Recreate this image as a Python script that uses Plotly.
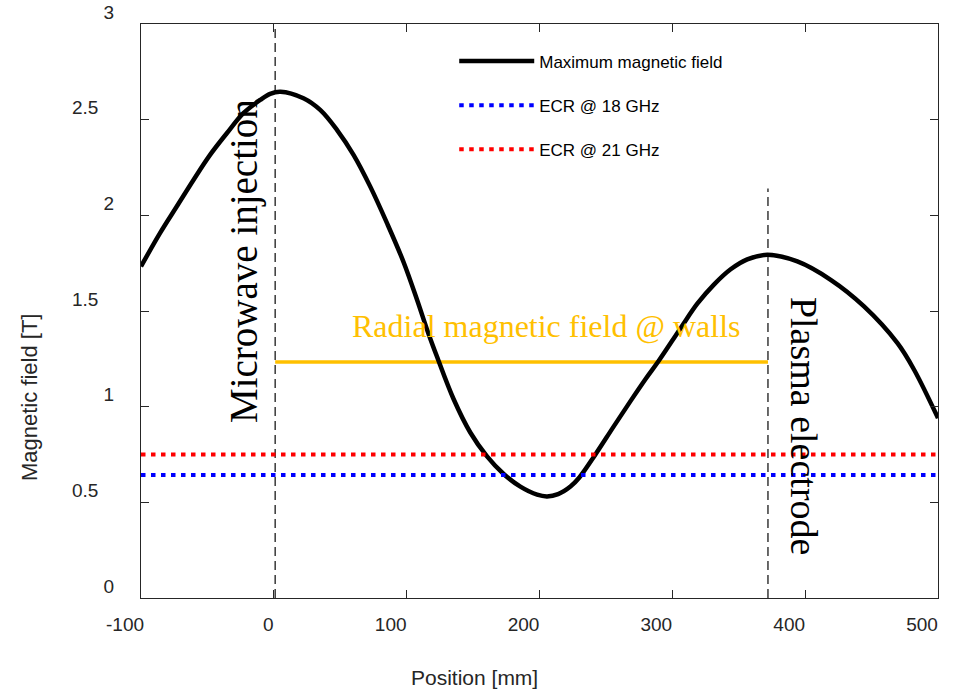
import plotly.graph_objects as go

# Axial profile of the maximum magnetic field
position_mm = [-100, -85.7, -73.1, -60.5, -48, -35.4, -22.9, -10.3, -2.8, 5,
               22.3, 34.9, 47.5, 60, 72.6, 85.2, 97.7, 108, 115.5, 122.8,
               135.3, 147.9, 160.5, 173, 185.6, 198.2, 205.7, 214, 223.3, 230,
               242, 255.9, 268.5, 280, 289.8, 306.2, 318.8, 331.3, 343.9, 356.4,
               371.5, 394.1, 419.2, 444.3, 469.5, 482, 500]
b_max_T = [1.733, 1.907, 2.046, 2.185, 2.316, 2.429, 2.534, 2.603, 2.635, 2.646,
           2.612, 2.551, 2.447, 2.316, 2.150, 1.959, 1.755, 1.555, 1.400, 1.262,
           1.040, 0.865, 0.740, 0.648, 0.582, 0.540, 0.531, 0.543, 0.583, 0.630,
           0.749, 0.897, 1.029, 1.146, 1.240, 1.410, 1.538, 1.638, 1.718, 1.770,
           1.794, 1.759, 1.663, 1.524, 1.332, 1.193, 0.940]

# Resonance fields and geometry markers
ecr_18ghz_T = 0.643
ecr_21ghz_T = 0.750
x_span = [-100, 500]
injection_mm = 1
electrode_mm = 372
electrode_top_T = 2.14
wall_field_T = 1.233

y_tickvals = [0, 0.5, 1, 1.5, 2, 2.5, 3]
y_ticktext = ["0", "0.5", "1", "1.5", "2", "2.5", "3"]
x_tickvals = [-100, 0, 100, 200, 300, 400, 500]
x_ticktext = ["-100", "0", "100", "200", "300", "400", "500"]

NB = "\u00a0"
y_ticktext_padded = [t + NB * 3 if "." in t else t for t in y_ticktext]
x_ticktext_padded = [NB * 4 + t if t == "0" else t for t in x_ticktext]

SANS = "Arial, Liberation Sans, sans-serif"
SERIF = "Times New Roman, Liberation Serif, serif"
AX = "#262626"

fig = go.Figure()

# vertical markers: microwave injection and plasma electrode
fig.add_trace(go.Scatter(x=[injection_mm, injection_mm], y=[0, 3], mode="lines",
                         line=dict(color="#1a1a1a", width=1.3, dash="9px,5px"),
                         showlegend=False, hoverinfo="skip"))
fig.add_trace(go.Scatter(x=[electrode_mm, electrode_mm], y=[0, electrode_top_T], mode="lines",
                         line=dict(color="#1a1a1a", width=1.3, dash="9px,5px"),
                         showlegend=False, hoverinfo="skip"))

# radial field at the walls
fig.add_trace(go.Scatter(x=[injection_mm, electrode_mm], y=[wall_field_T, wall_field_T],
                         mode="lines", line=dict(color="#FFC000", width=3.5),
                         showlegend=False, hoverinfo="skip"))

fig.add_trace(go.Scatter(x=position_mm, y=b_max_T, mode="lines",
                         name="Maximum magnetic field", legendgroup="a",
                         line=dict(color="black", width=4.5, shape="spline", smoothing=1.0)))
fig.add_trace(go.Scatter(x=x_span, y=[ecr_18ghz_T, ecr_18ghz_T], mode="lines",
                         name="ECR @ 18 GHz", legendgroup="b",
                         line=dict(color="#0000FF", width=4, dash="4.5px,5.5px")))
fig.add_trace(go.Scatter(x=x_span, y=[ecr_21ghz_T, ecr_21ghz_T], mode="lines",
                         name="ECR @ 21 GHz", legendgroup="c",
                         line=dict(color="#FF0000", width=4, dash="4.5px,5.5px")))

annotations = [
    dict(x=205, y=1.42, xref="x", yref="y", text="Radial magnetic field @ walls",
         showarrow=False, font=dict(family=SERIF, size=32, color="#FFC000"),
         xanchor="center", yanchor="middle"),
    dict(x=-23, y=1.763, xref="x", yref="y", text="Microwave injection", textangle=-90,
         showarrow=False, font=dict(family=SERIF, size=39, color="black"),
         xanchor="center", yanchor="middle"),
    dict(x=399, y=0.895, xref="x", yref="y", text="Plasma electrode", textangle=90,
         showarrow=False, font=dict(family=SERIF, size=38, color="black"),
         xanchor="center", yanchor="middle"),
    dict(x=0.419, y=-0.138, xref="paper", yref="paper", text="Position [mm]",
         showarrow=False, font=dict(family=SANS, size=21, color=AX),
         xanchor="center", yanchor="middle"),
    dict(x=-0.139, y=0.3505, xref="paper", yref="paper", text="Magnetic field [T]",
         textangle=-90, showarrow=False, font=dict(family=SANS, size=22, color=AX),
         xanchor="center", yanchor="middle"),
]

fig.update_layout(
    width=954, height=690,
    margin=dict(l=141, r=16, t=24, b=92, autoexpand=False),
    paper_bgcolor="white", plot_bgcolor="white",
    font=dict(family=SANS, color=AX),
    showlegend=True,
    legend=dict(x=0.393, y=0.966, xanchor="left", yanchor="top",
                bgcolor="rgba(0,0,0,0)", borderwidth=0,
                font=dict(family=SANS, size=17, color="black"),
                itemwidth=75, tracegroupgap=19, traceorder="grouped"),
    annotations=annotations,
    xaxis=dict(range=x_span, tickvals=x_tickvals, ticktext=x_ticktext_padded,
               ticks="inside", ticklen=8, tickcolor=AX, tickwidth=1,
               showline=True, linecolor=AX, linewidth=1, mirror="ticks",
               showgrid=False, zeroline=False, automargin=False,
               tickfont=dict(size=19, color=AX, family=SANS),
               ticklabelshift=-16, ticklabelstandoff=9),
    yaxis=dict(range=[0, 3], tickvals=y_tickvals, ticktext=y_ticktext_padded,
               ticks="inside", ticklen=8, tickcolor=AX, tickwidth=1,
               showline=True, linecolor=AX, linewidth=1, mirror="ticks",
               showgrid=False, zeroline=False, automargin=False,
               tickfont=dict(size=19, color=AX, family=SANS),
               ticklabelshift=-12, ticklabelstandoff=22),
)

fig.write_html("out.html")
